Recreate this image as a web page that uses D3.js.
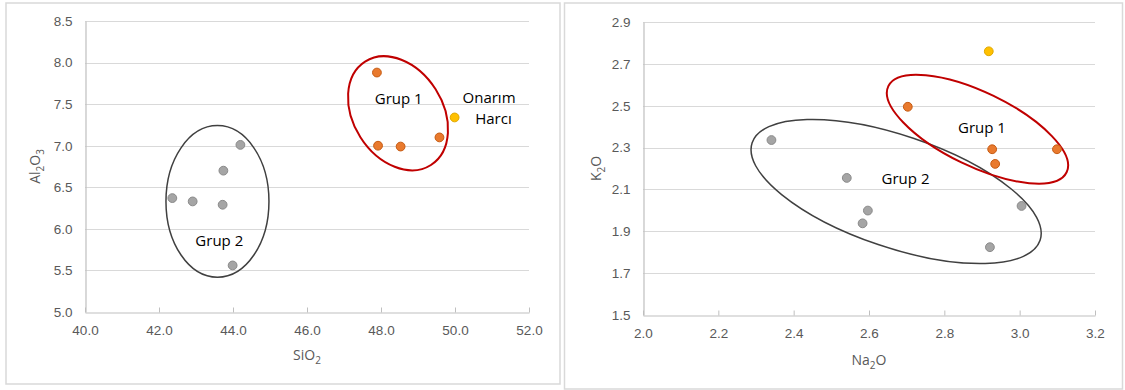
<!DOCTYPE html>
<html>
<head>
<meta charset="utf-8">
<script src="https://cdn.jsdelivr.net/npm/d3@7"></script>
<style>
  html, body { margin: 0; padding: 0; background: #fff; }
  svg { display: block; font-family: "Open Sans", "Noto Sans", sans-serif; }
</style>
</head>
<body>
<svg id="chart" width="1125" height="390"></svg>
<script>
// ---- Left chart data (SiO2 vs Al2O3) ----
const siO2Grup1 = [47.89, 47.92, 48.53, 49.58];
const al2O3Grup1 = [7.88, 7.00, 6.99, 7.10];
const siO2Grup2 = [44.20, 43.74, 42.36, 42.91, 43.72, 43.99];
const al2O3Grup2 = [7.01, 6.70, 6.37, 6.33, 6.29, 5.56];
const siO2Onarim = [49.99];
const al2O3Onarim = [7.34];
const siO2Ticks = [40, 42, 44, 46, 48, 50, 52];
const al2O3Ticks = [5.0, 5.5, 6.0, 6.5, 7.0, 7.5, 8.0, 8.5];

// ---- Right chart data (Na2O vs K2O) ----
const na2OGrup1 = [2.703, 2.927, 2.935, 3.099];
const k2OGrup1 = [2.495, 2.292, 2.222, 2.292];
const na2OGrup2 = [2.341, 2.541, 2.597, 2.583, 3.005, 2.921];
const k2OGrup2 = [2.336, 2.155, 1.999, 1.938, 2.021, 1.824];
const na2OOnarim = [2.918];
const k2OOnarim = [2.76];
const na2OTicks = [2.0, 2.2, 2.4, 2.6, 2.8, 3.0, 3.2];
const k2OTicks = [1.5, 1.7, 1.9, 2.1, 2.3, 2.5, 2.7, 2.9];

// Group annotations (centres in data units)
const leftEllipses = [
  { cx: 43.58, cy: 6.33, group: "g2" },
  { cx: 48.46, cy: 7.39, group: "g1" }
];
const rightEllipses = [
  { cx: 2.672, cy: 2.09, group: "g2" },
  { cx: 2.888, cy: 2.388, group: "g1" }
];
const leftLabels = [
  { x: 48.48, y: 7.575, text: "Grup 1" },
  { x: 43.63, y: 5.87, text: "Grup 2" },
  { x: 50.92, y: 7.587, text: "Onarım" },
  { x: 51.04, y: 7.335, text: "Harcı" }
];
const rightLabels = [
  { x: 2.900, y: 2.40, text: "Grup 1" },
  { x: 2.697, y: 2.156, text: "Grup 2" }
];

// ---- styles ----
const ellipseShape = {
  left: { g2: { rx: 51.5, ry: 75.8, rot: 0 }, g1: { rx: 61.3, ry: 44.6, rot: 57.5 } },
  right: { g2: { rx: 152, ry: 56, rot: 18.7 }, g1: { rx: 99, ry: 37, rot: 25.8 } }
};
const ellipseStroke = { g1: { color: "#c00000", width: 2 }, g2: { color: "#404040", width: 1.5 } };
const markerStyle = {
  g1: { fill: "#e97a2e", stroke: "#c65a11" },
  g2: { fill: "#a5a5a5", stroke: "#8a8a8a" },
  on: { fill: "#ffc000", stroke: "#e0a800" }
};

const svg = d3.select("#chart");

function drawPanel(cfg) {
  const g = svg.append("g");
  // frame
  g.append("rect")
    .attr("x", cfg.frame[0]).attr("y", cfg.frame[1])
    .attr("width", cfg.frame[2]).attr("height", cfg.frame[3])
    .attr("fill", "#fff").attr("stroke", "#d9d9d9").attr("stroke-width", 1.5);

  const x = d3.scaleLinear().domain(d3.extent(cfg.xTicks)).range(cfg.xRange);
  const y = d3.scaleLinear().domain(d3.extent(cfg.yTicks)).range(cfg.yRange);

  // gridlines
  g.append("g").selectAll("line").data(cfg.yTicks.slice(1)).join("line")
    .attr("x1", cfg.xRange[0]).attr("x2", cfg.xRange[1])
    .attr("y1", d => Math.round(y(d)) + 0.5).attr("y2", d => Math.round(y(d)) + 0.5)
    .attr("stroke", "#d9d9d9").attr("stroke-width", 1.2);

  // axes
  const xAxis = d3.axisBottom(x).tickValues(cfg.xTicks).tickFormat(d3.format(".1f"))
    .tickSizeInner(-5).tickSizeOuter(0).tickPadding(13);
  const xg = g.append("g").attr("transform", `translate(0,${Math.round(cfg.yRange[0]) + 0.5})`).call(xAxis);
  xg.select(".domain").attr("stroke", "#bfbfbf").attr("stroke-width", 1.2);
  xg.selectAll(".tick line").attr("stroke", "#bfbfbf");
  xg.selectAll("text").attr("fill", "#595959").style("font-size", "13.5px");

  const yAxis = d3.axisLeft(y).tickValues(cfg.yTicks).tickFormat(d3.format(".1f"))
    .tickSize(0).tickPadding(13);
  const yg = g.append("g").attr("transform", `translate(${Math.round(cfg.xRange[0]) + 0.5},0)`).call(yAxis);
  yg.select(".domain").attr("stroke", "#bfbfbf").attr("stroke-width", 1.2);
  yg.selectAll("text").attr("fill", "#595959").style("font-size", "13.5px");

  // axis titles with subscripts
  function title(parts, tx, ty, rotate) {
    const t = g.append("text")
      .attr("transform", `translate(${tx},${ty})` + (rotate ? " rotate(-90)" : ""))
      .attr("text-anchor", "middle").attr("y", 5)
      .attr("fill", "#595959").style("font-size", "14px");
    let shifted = false;
    parts.forEach(p => {
      const s = t.append("tspan").text(p.t);
      if (p.sub) {
        s.attr("dy", shifted ? 0 : 3.5).style("font-size", "10px");
        shifted = true;
      } else {
        s.attr("dy", shifted ? -3.5 : 0);
        shifted = false;
      }
    });
  }
  title(cfg.xTitle, (cfg.xRange[0] + cfg.xRange[1]) / 2, cfg.xTitleY, false);
  title(cfg.yTitle, cfg.yTitleX, (cfg.yRange[0] + cfg.yRange[1]) / 2, true);

  // ellipses
  g.append("g").selectAll("ellipse").data(cfg.ellipses).join("ellipse")
    .attr("transform", d => `translate(${x(d.cx)},${y(d.cy)}) rotate(${cfg.shapes[d.group].rot})`)
    .attr("rx", d => cfg.shapes[d.group].rx).attr("ry", d => cfg.shapes[d.group].ry)
    .attr("fill", "none")
    .attr("stroke", d => ellipseStroke[d.group].color)
    .attr("stroke-width", d => ellipseStroke[d.group].width);

  // points
  cfg.series.forEach(s => {
    const pts = s.xs.map((v, i) => [v, s.ys[i]]);
    g.append("g").selectAll("circle").data(pts).join("circle")
      .attr("cx", d => x(d[0])).attr("cy", d => y(d[1])).attr("r", 4.4)
      .attr("fill", markerStyle[s.key].fill)
      .attr("stroke", markerStyle[s.key].stroke).attr("stroke-width", 1);
  });

  // labels
  g.append("g").selectAll("text").data(cfg.labels).join("text")
    .attr("x", d => x(d.x)).attr("y", d => y(d.y))
    .attr("text-anchor", "middle").attr("dominant-baseline", "central")
    .attr("fill", "#000").style("font-size", "15px")
    .text(d => d.text);
}

drawPanel({
  frame: [6, 3, 554, 381],
  xTicks: siO2Ticks, yTicks: al2O3Ticks,
  xRange: [85, 529], yRange: [312, 21],
  xTitle: [{ t: "SiO" }, { t: "2", sub: true }], xTitleY: 355,
  yTitle: [{ t: "Al" }, { t: "2", sub: true }, { t: "O" }, { t: "3", sub: true }], yTitleX: 35,
  ellipses: leftEllipses, shapes: ellipseShape.left,
  series: [
    { key: "g2", xs: siO2Grup2, ys: al2O3Grup2 },
    { key: "g1", xs: siO2Grup1, ys: al2O3Grup1 },
    { key: "on", xs: siO2Onarim, ys: al2O3Onarim }
  ],
  labels: leftLabels
});

drawPanel({
  frame: [564.5, 3, 558, 386],
  xTicks: na2OTicks, yTicks: k2OTicks,
  xRange: [643, 1095], yRange: [315, 22],
  xTitle: [{ t: "Na" }, { t: "2", sub: true }, { t: "O" }], xTitleY: 360,
  yTitle: [{ t: "K" }, { t: "2", sub: true }, { t: "O" }], yTitleX: 596,
  ellipses: rightEllipses, shapes: ellipseShape.right,
  series: [
    { key: "g2", xs: na2OGrup2, ys: k2OGrup2 },
    { key: "g1", xs: na2OGrup1, ys: k2OGrup1 },
    { key: "on", xs: na2OOnarim, ys: k2OOnarim }
  ],
  labels: rightLabels
});
</script>
</body>
</html>
